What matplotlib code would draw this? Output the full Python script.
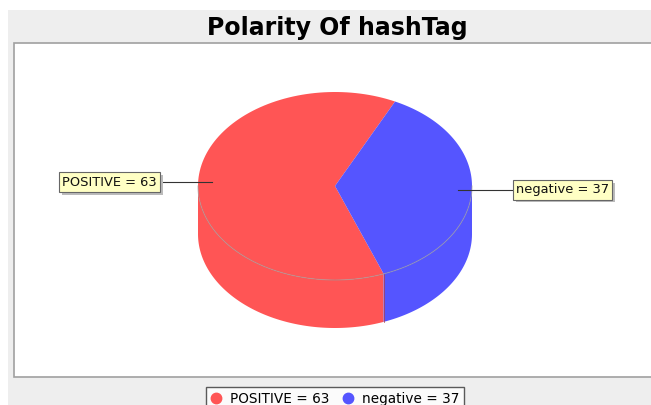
import numpy as np
import matplotlib
matplotlib.use("Agg")
import matplotlib.pyplot as plt
import matplotlib.patches as mpatches
import matplotlib.patheffects as pe
from matplotlib.lines import Line2D

# Chart data
title = "Polarity Of hashTag"
categories = ["POSITIVE", "negative"]
values = [63, 37]
colors = ["#FF5555", "#5555FF"]

# Layout (pixel coords, y down)
W, H = 651, 405
cx, cy = 335, 186       # centre of pie top
rx, ry = 137, 94        # radii of top ellipse
depth = 48              # height of the pie wall
start_angle = 64        # degrees, slices go anticlockwise


def ellipse_pts(t0, t1, dy=0, n=120):
    t = np.radians(np.linspace(t0, t1, n))
    return np.column_stack([cx + rx * np.cos(t), cy - ry * np.sin(t) + dy])


fig = plt.figure(figsize=(W / 100, H / 100), dpi=100)
ax = fig.add_axes([0, 0, 1, 1])
ax.set_xlim(0, W)
ax.set_ylim(H, 0)
ax.axis("off")

# Panel background and plot area
ax.add_patch(mpatches.Rectangle((8, 10), W, H, fc="#EEEEEE", ec="none", zorder=0))
ax.add_patch(mpatches.Rectangle((14, 43), W, 334, fc="white", ec="#A0A0A0", lw=1.2, zorder=1))

ax.text(337, 28, title, ha="center", va="center", fontsize=17, fontweight="bold",
        color="black", zorder=5)

# Slice angles
total = float(sum(values))
bounds = [start_angle]
for v in values:
    bounds.append(bounds[-1] + 360.0 * v / total)

# Side walls (only the front half is visible)
for i, col in enumerate(colors):
    a0, a1 = bounds[i], bounds[i + 1]
    for lo, hi in [(-180, 0), (180, 360), (540, 720)]:
        s0, s1 = max(a0, lo), min(a1, hi)
        if s1 <= s0:
            continue
        top = ellipse_pts(s0, s1)
        bot = ellipse_pts(s1, s0, dy=depth)
        ax.add_patch(mpatches.Polygon(np.vstack([top, bot]), closed=True, fc=col,
                                      ec="none", zorder=2))
        # vertical seam where a slice boundary is on the front side
        for s in (s0, s1):
            if s in (a0, a1) and lo < s < hi:
                p = ellipse_pts(s, s, n=1)[0]
                ax.plot([p[0], p[0]], [p[1], p[1] + depth], color="#B04040", lw=0.6,
                        alpha=0.5, zorder=3)

# Top faces
for i, col in enumerate(colors):
    pts = np.vstack([[cx, cy], ellipse_pts(bounds[i], bounds[i + 1])])
    ax.add_patch(mpatches.Polygon(pts, closed=True, fc=col, ec="none", zorder=4))

# faint rim of the top face on the front
rim = ellipse_pts(180, 360)
ax.plot(rim[:, 0], rim[:, 1], color="#999999", lw=0.8, alpha=0.6, zorder=4.5)

# Labels with link lines
label_box = dict(boxstyle="square,pad=0.25", fc="#FFFFC4", ec="#666666", lw=0.8)
for i, (cat, v) in enumerate(zip(categories, values)):
    mid = np.radians((bounds[i] + bounds[i + 1]) / 2)
    px = cx + 0.9 * rx * np.cos(mid)
    py = cy - 0.9 * ry * np.sin(mid)
    txt = f"{cat} = {v}"
    if np.cos(mid) < 0:
        edge, tx, ha = 160, 157, "right"
    else:
        edge, tx, ha = 513, 516, "left"
    ax.plot([edge, px], [py, py], color="#333333", lw=0.8, zorder=5)
    t = ax.text(tx, py, txt, ha=ha, va="center", fontsize=9.4, color="#111111",
                bbox=label_box, zorder=6)
    t.get_bbox_patch().set_path_effects([
        pe.SimplePatchShadow(offset=(2, -2), shadow_rgbFace="#BBBBBB", alpha=1.0),
        pe.Normal(),
    ])

# Legend
handles = [Line2D([], [], marker="o", ls="none", ms=7.5, mfc=c, mec=c) for c in colors]
leg = fig.legend(handles, [f"{c} = {v}" for c, v in zip(categories, values)],
                 loc="upper center", bbox_to_anchor=(335 / W, 1 - 380 / H), ncol=2,
                 fontsize=9.8, frameon=True, fancybox=False, handlelength=0.8,
                 handletextpad=0.6, columnspacing=1.0, borderpad=0.35)
leg.get_frame().set_edgecolor("#333333")
leg.get_frame().set_linewidth(1.0)

fig.savefig("out.png", dpi=100)
